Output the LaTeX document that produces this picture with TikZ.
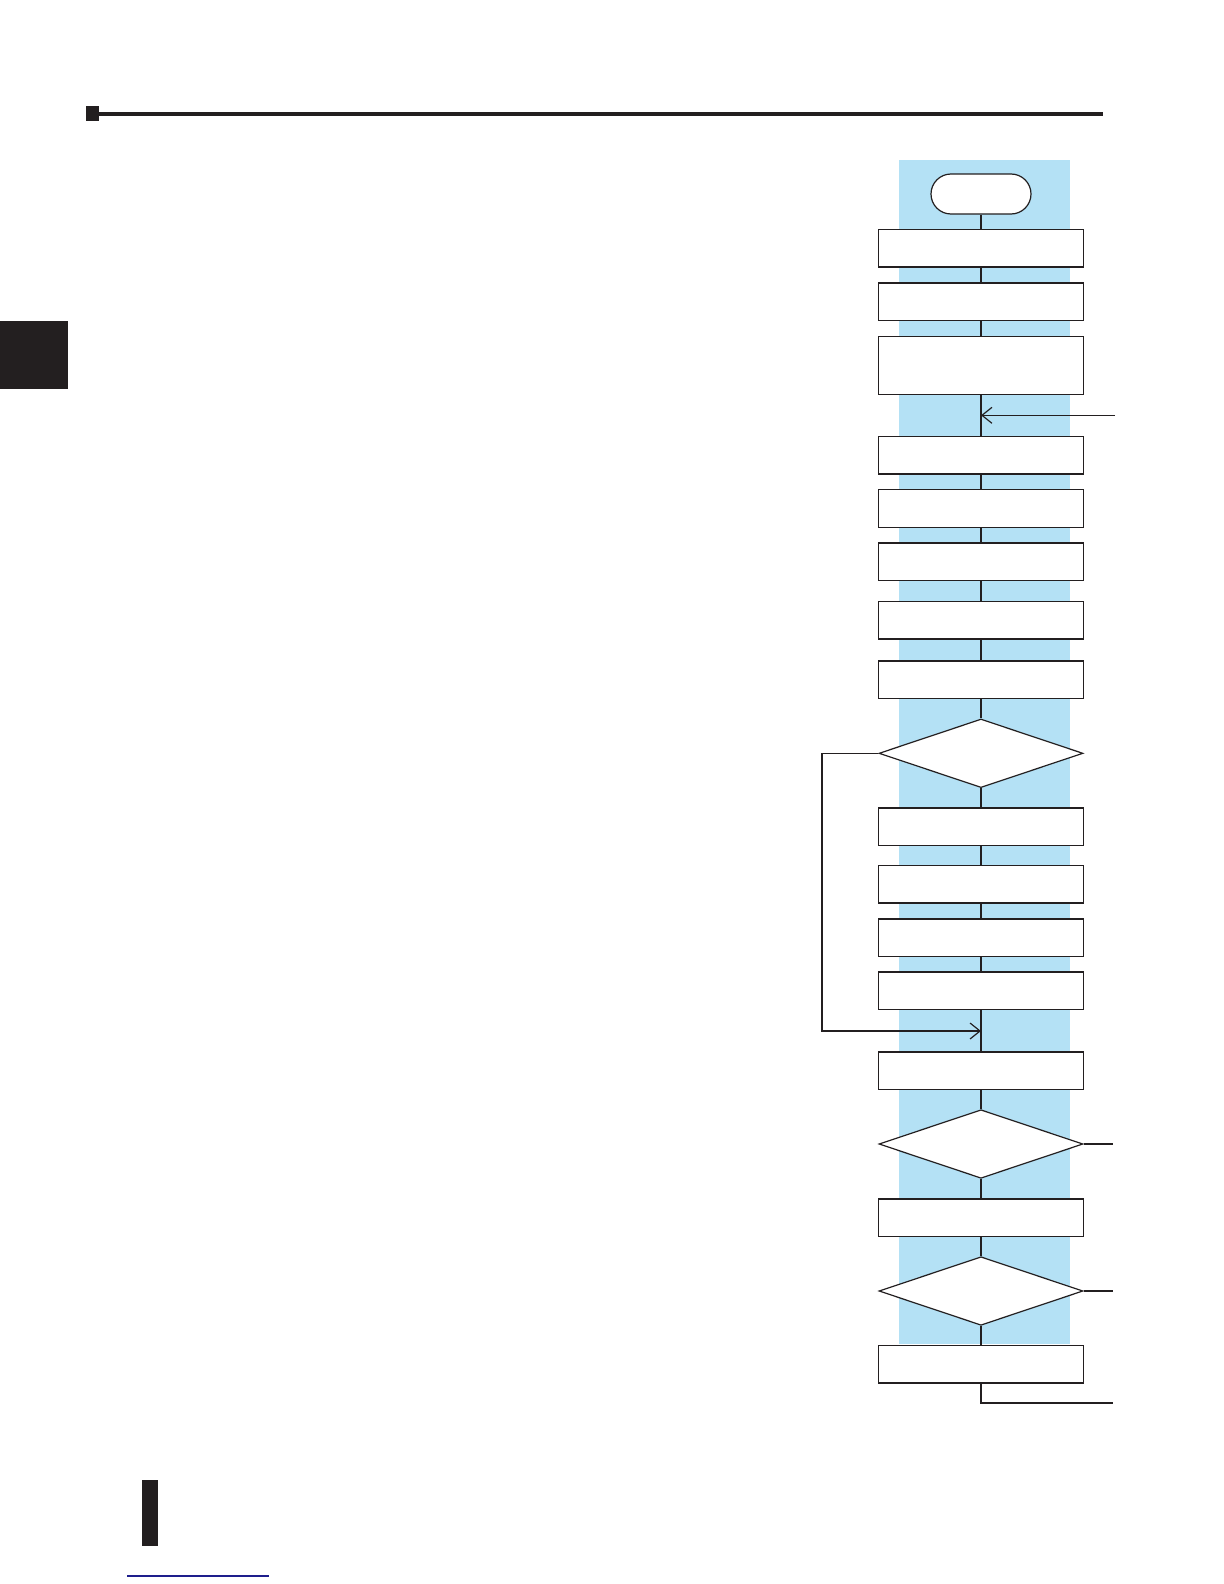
\documentclass[tikz,border=0pt]{standalone}
\usetikzlibrary{shapes.geometric,arrows.meta}
\definecolor{ink}{RGB}{35,31,32}
\definecolor{band}{RGB}{180,225,245}
\definecolor{linkblue}{RGB}{30,30,140}
\tikzset{
  stepbox/.style={draw=ink, fill=white, line width=0.6pt, rectangle, minimum width=102.5pt, minimum height=18.75pt, inner sep=0pt},
  tallbox/.style={stepbox, minimum height=29pt},
  termbox/.style={draw=ink, fill=white, line width=0.6pt, rectangle, rounded corners=10pt, minimum width=50pt, minimum height=20pt, inner sep=0pt},
  decision/.style={draw=ink, fill=white, line width=0.6pt, diamond, minimum width=102pt, minimum height=34.3pt, inner sep=0pt},
  flow/.style={draw=ink, line width=0.6pt},
  flowarrow/.style={flow, -{Straight Barb[length=5pt, width=8pt, line width=0.6pt]}}
}
\begin{document}
\begin{tikzpicture}[x=0.5pt, y=-0.5pt]
\useasboundingbox (0,0) rectangle (1224,1584);
% page decorations
\fill[ink] (86,106) rectangle (99,121);
\fill[ink] (99,112) rectangle (1103,116.5);
\fill[ink] (0,321) rectangle (68,389);
\fill[ink] (142,1480) rectangle (158,1546);
\draw[linkblue, line width=0.6pt] (127,1576) -- (269,1576);
% blue band
\fill[band] (899,160) rectangle (1070,1344);
% nodes
\node[termbox] (t0) at (981,194) {};
\node[stepbox] (b1) at (981,248.3) {};
\node[stepbox] (b2) at (981,301.8) {};
\node[tallbox] (b3) at (981,365.3) {};
\node[stepbox] (b4) at (981,455.3) {};
\node[stepbox] (b5) at (981,508.5) {};
\node[stepbox] (b6) at (981,561.8) {};
\node[stepbox] (b7) at (981,620.3) {};
\node[stepbox] (b8) at (981,679.8) {};
\node[decision] (d1) at (981,753.3) {};
\node[stepbox] (b9) at (981,826.8) {};
\node[stepbox] (b10) at (981,884.3) {};
\node[stepbox] (b11) at (981,937.8) {};
\node[stepbox] (b12) at (981,990.8) {};
\node[stepbox] (b13) at (981,1070.8) {};
\node[decision] (d2) at (981,1144) {};
\node[stepbox] (b14) at (981,1217.8) {};
\node[decision] (d3) at (981,1291) {};
\node[stepbox] (b15) at (981,1364.2) {};
% coordinates
\coordinate (m1) at (981,415.3);
\coordinate (e1) at (1115,415.3);
\coordinate (m2) at (981,1031);
\coordinate (lx) at (822,1031);
\coordinate (e2) at (1113,1144);
\coordinate (e3) at (1113,1291);
\coordinate (e4) at (1113,1403);
% connectors
\draw[flow] (t0.south) -- (b1.north);
\draw[flow] (b1.south) -- (b2.north);
\draw[flow] (b2.south) -- (b3.north);
\draw[flow] (b3.south) -- (b4.north);
\draw[flowarrow] (e1) -- (m1);
\draw[flow] (b4.south) -- (b5.north);
\draw[flow] (b5.south) -- (b6.north);
\draw[flow] (b6.south) -- (b7.north);
\draw[flow] (b7.south) -- (b8.north);
\draw[flow] (b8.south) -- (d1.north);
\draw[flow] (d1.south) -- (b9.north);
\draw[flow] (b9.south) -- (b10.north);
\draw[flow] (b10.south) -- (b11.north);
\draw[flow] (b11.south) -- (b12.north);
\draw[flow] (b12.south) -- (b13.north);
\draw[flowarrow] (d1.west) -| (lx) -- (m2);
\draw[flow] (b13.south) -- (d2.north);
\draw[flow] (d2.east) -- (e2);
\draw[flow] (d2.south) -- (b14.north);
\draw[flow] (b14.south) -- (d3.north);
\draw[flow] (d3.east) -- (e3);
\draw[flow] (d3.south) -- (b15.north);
\draw[flow] (b15.south) |- (e4);
\end{tikzpicture}
\end{document}
